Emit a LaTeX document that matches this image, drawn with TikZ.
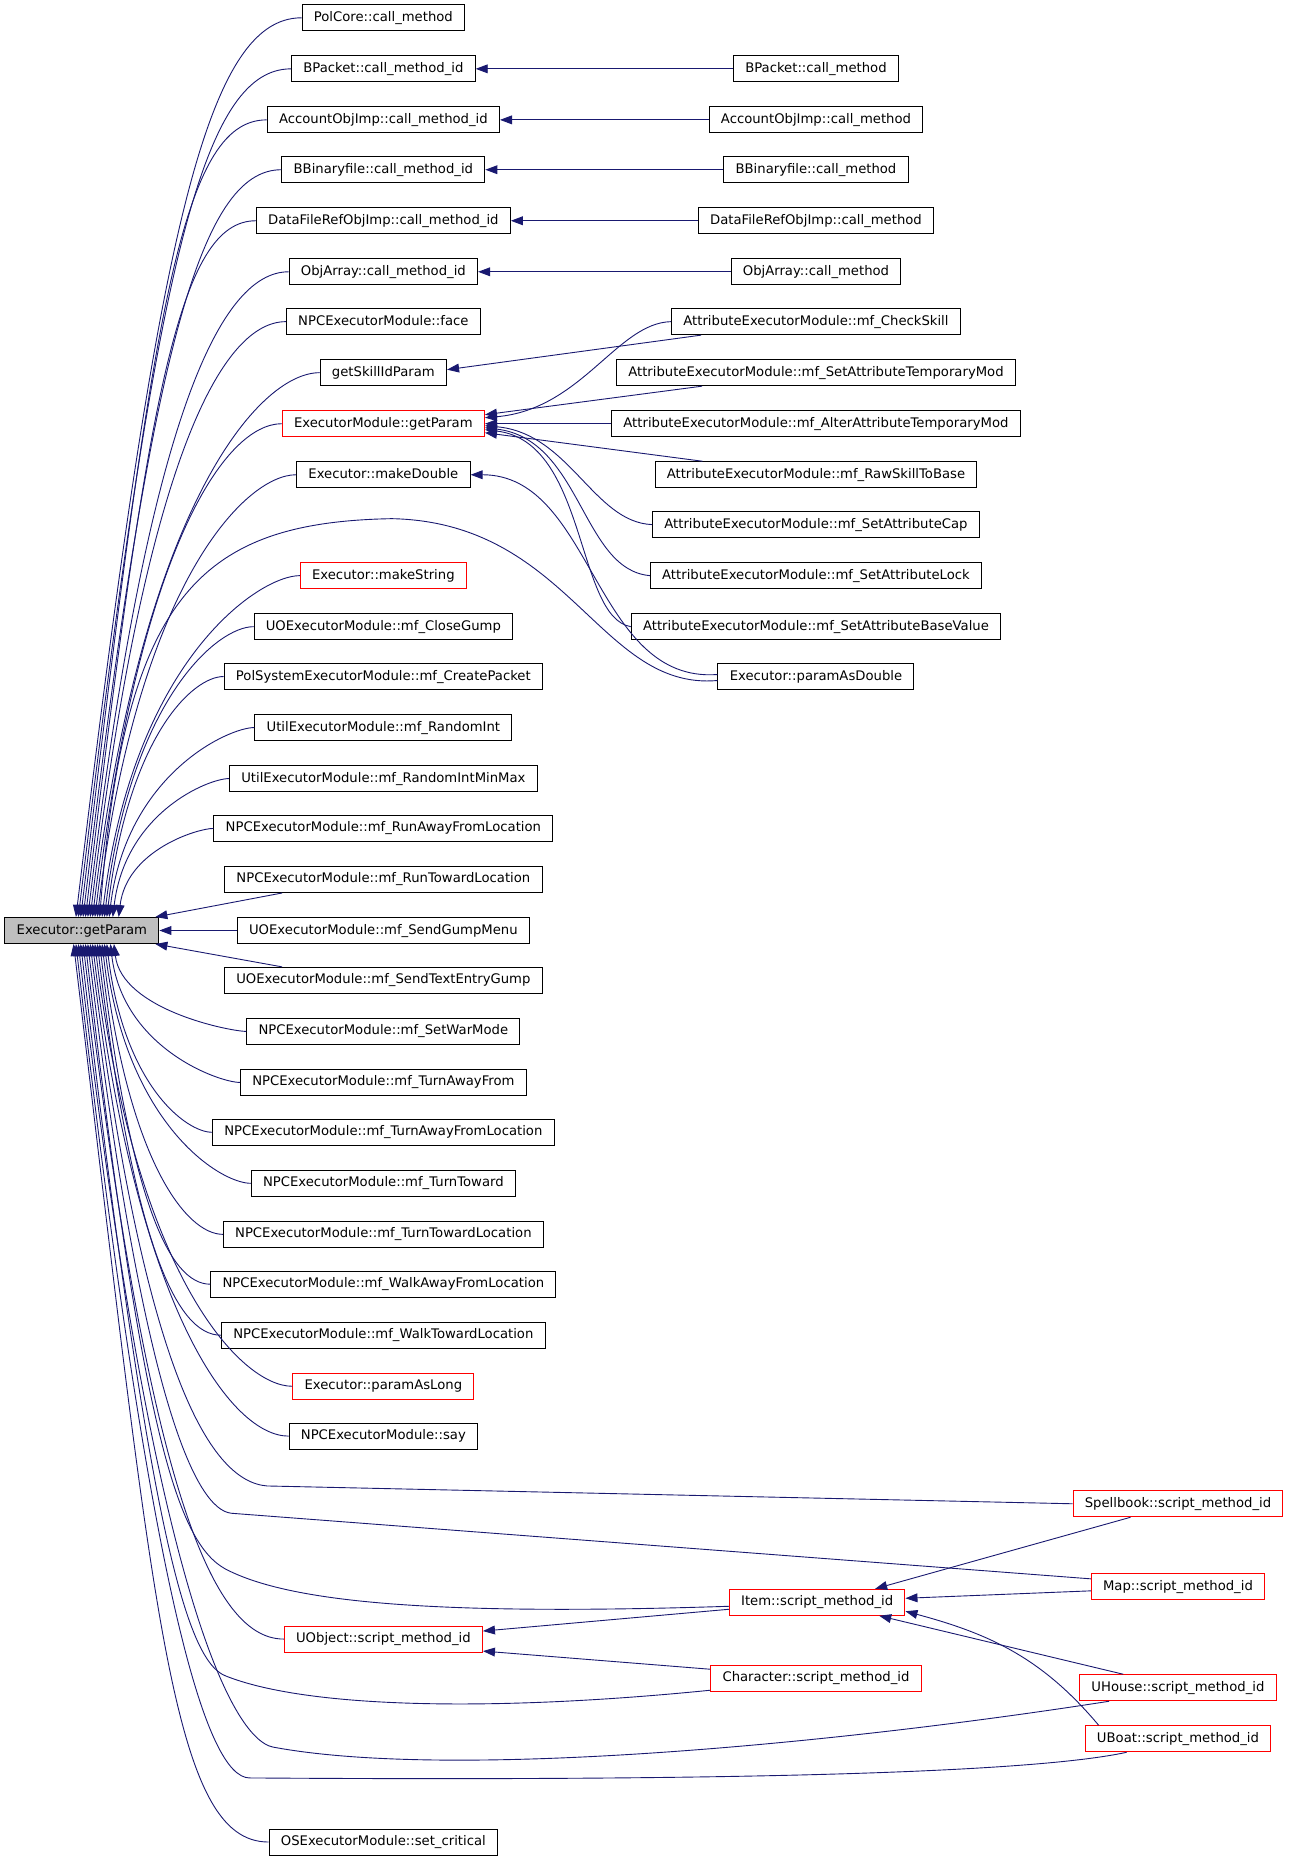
\documentclass[tikz,border=0pt]{standalone}
\usepackage{fontspec}
\newfontfamily\graphfont{DejaVu Sans}
\usetikzlibrary{arrows.meta}
\definecolor{edgeblue}{RGB}{25,25,112}

\begin{document}
\begin{tikzpicture}[
                x=0.5933pt, y=-0.5933pt,
                fn/.style = {draw, fill=white, line width=0.5pt, font=\graphfont\fontsize{6.6}{7}\selectfont,
                             inner xsep=5.9pt, inner ysep=0pt, minimum height=13pt, text height=4.9pt, text depth=1.4pt},
                fnred/.style = {fn, draw=red},
                fnroot/.style = {fn, fill=gray!50},
                call/.style = {draw=edgeblue, line width=0.45pt, -{Triangle[length=6pt,width=4.4pt]}},
            ]
            \useasboundingbox (0,0) rectangle (1088,1568);

            \node (root) at (69,784) [fnroot] {Executor::getParam};

            % callers of Executor::getParam
            \node (pcm) at (323,15) [fn] {PolCore::call\_method};
            \node (bpi) at (323,58) [fn] {BPacket::call\_method\_id};
            \node (aoi) at (323,101) [fn] {AccountObjImp::call\_method\_id};
            \node (bbi) at (323,143) [fn] {BBinaryfile::call\_method\_id};
            \node (dfi) at (323,186) [fn] {DataFileRefObjImp::call\_method\_id};
            \node (oai) at (323,229) [fn] {ObjArray::call\_method\_id};
            \node (face) at (323,271) [fn] {NPCExecutorModule::face};
            \node (gsp) at (323,314) [fn] {getSkillIdParam};
            \node (emgp) at (323,357) [fnred] {ExecutorModule::getParam};
            \node (mkd) at (323,400) [fn] {Executor::makeDouble};
            \node (mks) at (323,485) [fnred] {Executor::makeString};
            \node (clg) at (323,528) [fn] {UOExecutorModule::mf\_CloseGump};
            \node (crp) at (323,570) [fn] {PolSystemExecutorModule::mf\_CreatePacket};
            \node (rnd) at (323,613) [fn] {UtilExecutorModule::mf\_RandomInt};
            \node (rmm) at (323,656) [fn] {UtilExecutorModule::mf\_RandomIntMinMax};
            \node (ral) at (323,698) [fn] {NPCExecutorModule::mf\_RunAwayFromLocation};
            \node (rtl) at (323,741) [fn] {NPCExecutorModule::mf\_RunTowardLocation};
            \node (sgm) at (323,784) [fn] {UOExecutorModule::mf\_SendGumpMenu};
            \node (ste) at (323,826) [fn] {UOExecutorModule::mf\_SendTextEntryGump};
            \node (swm) at (323,869) [fn] {NPCExecutorModule::mf\_SetWarMode};
            \node (taf) at (323,912) [fn] {NPCExecutorModule::mf\_TurnAwayFrom};
            \node (tal) at (323,954) [fn] {NPCExecutorModule::mf\_TurnAwayFromLocation};
            \node (ttw) at (323,997) [fn] {NPCExecutorModule::mf\_TurnToward};
            \node (ttl) at (323,1040) [fn] {NPCExecutorModule::mf\_TurnTowardLocation};
            \node (wal) at (323,1082) [fn] {NPCExecutorModule::mf\_WalkAwayFromLocation};
            \node (wtl) at (323,1125) [fn] {NPCExecutorModule::mf\_WalkTowardLocation};
            \node (pal) at (323,1168) [fnred] {Executor::paramAsLong};
            \node (say) at (323,1210) [fn] {NPCExecutorModule::say};
            \node (uob) at (323,1381) [fnred] {UObject::script\_method\_id};
            \node (scr) at (323,1552) [fn] {OSExecutorModule::set\_critical};

            % second level
            \node (bpm) at (687.5,58) [fn] {BPacket::call\_method};
            \node (aom) at (687.5,101) [fn] {AccountObjImp::call\_method};
            \node (bbm) at (687.5,143) [fn] {BBinaryfile::call\_method};
            \node (dfm) at (687.5,186) [fn] {DataFileRefObjImp::call\_method};
            \node (oam) at (687.5,229) [fn] {ObjArray::call\_method};
            \node (cks) at (687.5,271) [fn] {AttributeExecutorModule::mf\_CheckSkill};
            \node (stm) at (687.5,314) [fn] {AttributeExecutorModule::mf\_SetAttributeTemporaryMod};
            \node (atm) at (687.5,357) [fn] {AttributeExecutorModule::mf\_AlterAttributeTemporaryMod};
            \node (rsb) at (687.5,400) [fn] {AttributeExecutorModule::mf\_RawSkillToBase};
            \node (sac) at (687.5,442) [fn] {AttributeExecutorModule::mf\_SetAttributeCap};
            \node (sal) at (687.5,485) [fn] {AttributeExecutorModule::mf\_SetAttributeLock};
            \node (sbv) at (687.5,528) [fn] {AttributeExecutorModule::mf\_SetAttributeBaseValue};
            \node (pad) at (687.5,570) [fn] {Executor::paramAsDouble};
            \node (itm) at (688.5,1350) [fnred] {Item::script\_method\_id};
            \node (chr) at (687.5,1414) [fnred] {Character::script\_method\_id};

            % third level
            \node (spb) at (992.5,1267) [fnred] {Spellbook::script\_method\_id};
            \node (map) at (992.5,1337) [fnred] {Map::script\_method\_id};
            \node (uhs) at (992.5,1422) [fnred] {UHouse::script\_method\_id};
            \node (ubt) at (992.5,1465) [fnred] {UBoat::script\_method\_id};

            % edges into the top of the root
            \foreach \n/\y/\xa in {pcm/15/64, bpi/58/66, aoi/101/68, bbi/143/70, dfi/186/72, oai/229/74,
                                   face/271/76, gsp/314/78, emgp/357/80, mkd/400/82, mks/485/86, clg/528/88,
                                   crp/570/90, rnd/613/92, rmm/656/95, ral/698/100}
                \draw[call] (\n.west) .. controls +({-0.1*(773-\y)-6},0) and +({0.09*(773-\y)},{-0.75*(773-\y)}) .. (\xa,0 |- root.north);
            \draw[call] ([yshift=-2pt]pad.west) .. controls (505,582) and (480,440) .. (330,437)
                .. controls (170,440) and (105,500) .. (84,0 |- root.north);
            \draw[call] ([xshift=29pt]rtl.south west) -- ([xshift=-2pt]root.north east);
            \draw[call] (sgm.west) -- (root.east);
            \draw[call] ([xshift=29pt]ste.north west) -- ([xshift=-2pt]root.south east);

            % edges into the bottom of the root
            \foreach \n/\y/\xa in {swm/869/96, taf/912/93, tal/954/90, ttw/997/88, ttl/1040/86, wal/1082/84,
                                   wtl/1125/82, pal/1168/80, say/1210/78, uob/1381/70, scr/1552/62}
                \draw[call] (\n.west) .. controls +({-0.1*(\y-795)-6},0) and +({0.09*(\y-795)},{0.75*(\y-795)}) .. (\xa,0 |- root.south);
            \draw[call] (spb.west) -- (225,1252) .. controls (175,1248) and (120,1150) .. (76,0 |- root.south);
            \draw[call] ([yshift=4pt]map.west) -- (195,1275) .. controls (165,1272) and (120,1180) .. (74,0 |- root.south);
            \draw[call] ([yshift=-2pt]itm.west) .. controls (350,1362) and (240,1348) .. (190,1322)
                .. controls (150,1300) and (120,1210) .. (72,0 |- root.south);
            \draw[call] ([yshift=-6pt]chr.west) .. controls (420,1442) and (260,1440) .. (190,1412)
                .. controls (157,1399) and (125,1289) .. (68,0 |- root.south);
            \draw[call] ([xshift=15pt]uhs.south west) .. controls (700,1470) and (380,1500) .. (230,1472)
                .. controls (195,1465) and (128,1337) .. (66,0 |- root.south);
            \draw[call] ([xshift=21pt]ubt.south west) .. controls (850,1498) and (500,1500) .. (210,1498)
                .. controls (175,1497) and (128,1357) .. (64,0 |- root.south);

            % second level into first level
            \foreach \a/\b in {bpm/bpi, aom/aoi, bbm/bbi, dfm/dfi, oam/oai}
                \draw[call] (\a.west) -- (\b.east);
            \draw[call] ([xshift=15pt]cks.south west) -- ([yshift=1.5pt]gsp.east);
            \draw[call] (cks.west) .. controls (520,272) and (490,345) .. ([yshift=3pt]emgp.east);
            \draw[call] ([xshift=43pt]stm.south west) -- ([yshift=4.5pt]emgp.east);
            \draw[call] (atm.west) -- (emgp.east);
            \draw[call] ([xshift=24pt]rsb.north west) -- ([yshift=-4.5pt]emgp.east);
            \draw[call] (sac.west) .. controls (500,440) and (480,365) .. ([yshift=-1pt]emgp.east);
            \draw[call] (sal.west) .. controls (490,480) and (490,370) .. ([yshift=-2pt]emgp.east);
            \draw[call] (sbv.west) .. controls (485,520) and (495,372) .. ([yshift=-3pt]emgp.east);
            \draw[call] ([yshift=1pt]pad.west) .. controls (500,576) and (500,400) .. (mkd.east);
            \draw[call] ([yshift=-3.5pt]itm.west) -- ([yshift=4pt]uob.east);
            \draw[call] ([yshift=4.5pt]chr.west) -- ([yshift=-6pt]uob.east);

            % third level into second level
            \draw[call] ([xshift=29pt]spb.south west) -- ([xshift=29pt]itm.north);
            \draw[call] ([yshift=-2pt]map.west) -- ([yshift=2pt]itm.east);
            \draw[call] ([xshift=22pt]uhs.north west) -- ([xshift=31pt]itm.south);
            \draw[call] ([xshift=7pt]ubt.north west) to[out=130,in=-15] ([yshift=-4.5pt]itm.east);
        \end{tikzpicture}
\end{document}
